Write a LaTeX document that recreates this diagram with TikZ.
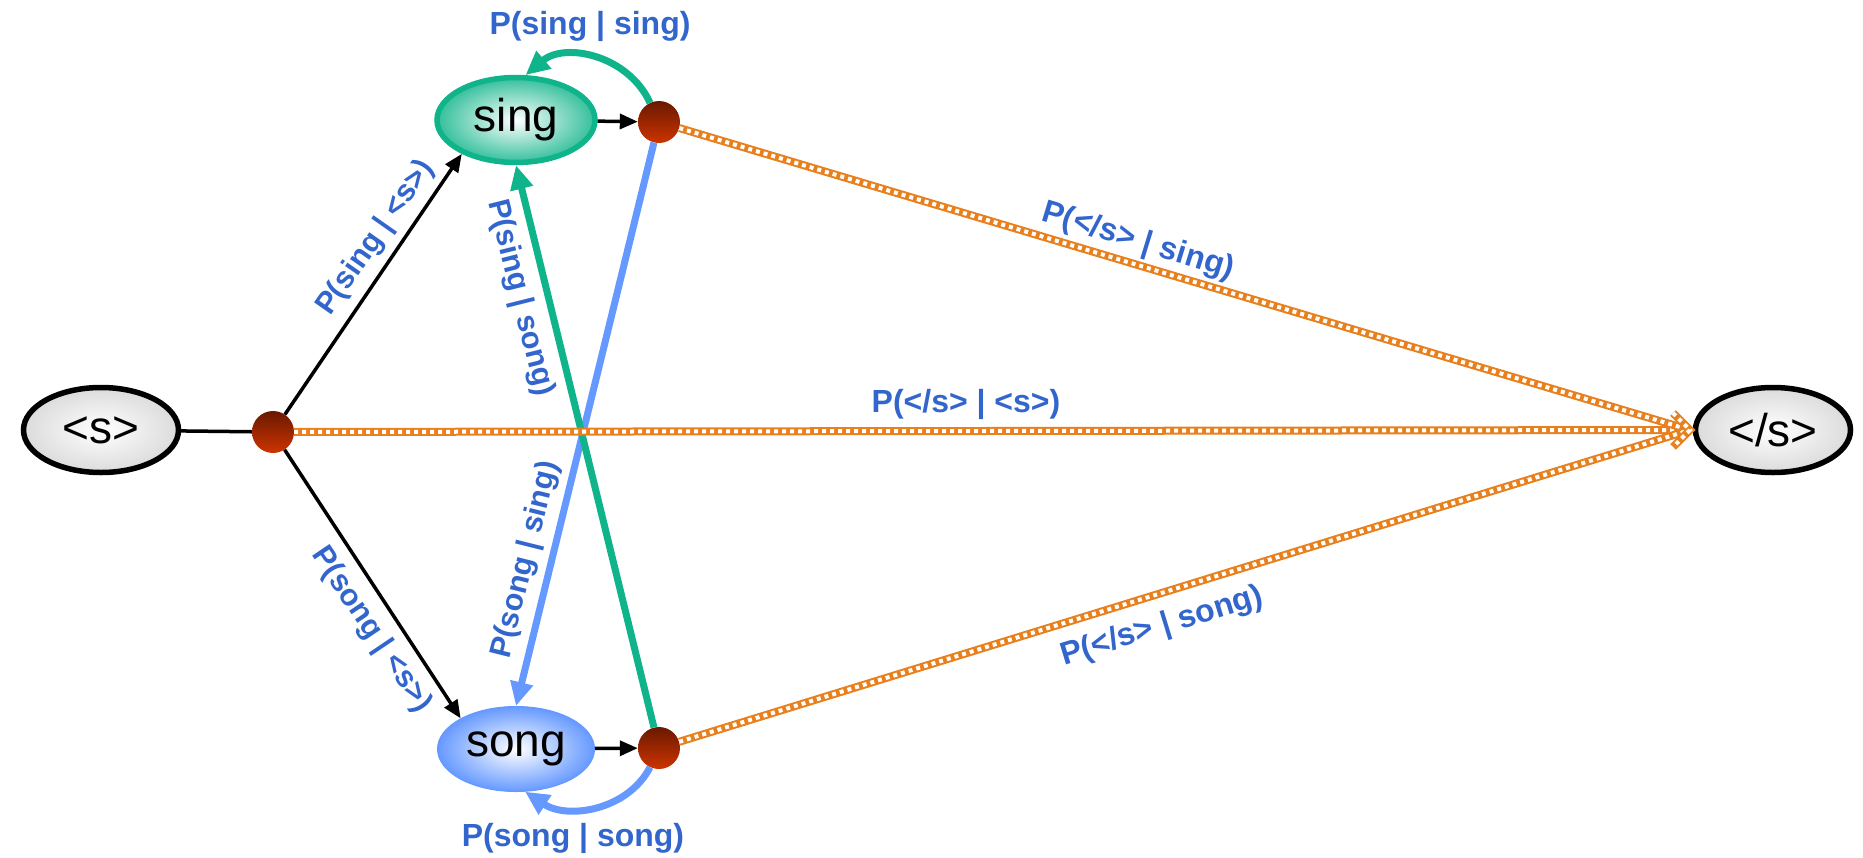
\documentclass[tikz,border=0pt]{standalone}
\usepackage{fontspec}
\setmainfont{Liberation Sans}
\usetikzlibrary{shapes.geometric,arrows.meta}
\definecolor{lblue}{RGB}{51,102,204}
\definecolor{grn}{RGB}{16,180,138}
\definecolor{lnblue}{RGB}{102,153,255}
\definecolor{org}{RGB}{232,128,30}
\definecolor{dtop}{RGB}{105,25,0}
\definecolor{dbot}{RGB}{205,52,0}
\begin{document}
\begin{tikzpicture}[x=1pt,y=-1pt,
 term/.style={ellipse, draw=black, line width=5.5pt, minimum width=155pt, minimum height=85pt, inner sep=0pt, inner color=white, outer color=gray!28, font=\fontsize{46}{50}\selectfont},
 word/.style={ellipse, minimum width=158pt, minimum height=85pt, inner sep=0pt, font=\fontsize{46}{50}\selectfont},
 dotnode/.style={circle, minimum size=42pt, inner sep=0pt, top color=dtop, bottom color=dbot},
 blk/.style={line width=3.5pt, -{Triangle[length=18pt,width=15pt]}},
 bigarrow/.style={line width=7pt, -{Triangle[length=24pt,width=22pt]}},
 chk/.style={draw=org, line width=8pt, postaction={draw=white, line width=4pt, dash pattern=on 4pt off 4pt}},
 lb/.style={text=lblue, font=\fontsize{32}{36}\selectfont\bfseries, inner sep=0pt},
 lr/.style={text=lblue, font=\fontsize{30.5}{34}\selectfont\bfseries, inner sep=0pt}
]
\useasboundingbox (0,0) rectangle (1863,857);

% nodes
\node[term] (s) at (101,430) {<s>};
\node[term] (e) at (1773,430) {</s>};
\node[word, draw=grn, line width=5.5pt, inner color=white, outer color=grn!85] (sing) at (516,120) {sing};
\node[word, minimum width=157pt, draw=lnblue, line width=1pt, inner color=white, outer color=lnblue] (song) at (516,749) {song};
\node[dotnode] (sdot) at (273,432) {};
\node[dotnode] (singdot) at (659,122) {};
\node[dotnode] (songdot) at (659,748) {};
\coordinate (tip) at (1690,430);
\coordinate (barbA) at (1673,413);
\coordinate (barbB) at (1673,447);

% black connectors
\draw[line width=3.5pt] (s) -- (sdot);
\draw[blk] (sdot) -- (sing.212);
\draw[blk] (sdot) -- (song.151);
\draw[blk] (sing) -- (singdot);
\draw[blk] (song) -- (songdot);

% cross transitions
\draw[bigarrow, lnblue] (singdot) -- (song.north);
\draw[bigarrow, grn] (songdot) -- (sing.south);

% self loops
\draw[bigarrow, grn] (singdot.115) .. controls (628,55) and (565,42) .. (sing.78);
\draw[bigarrow, lnblue] (songdot.245) .. controls (628,810) and (568,820) .. (song.282);

% end transitions
\draw[chk] (sdot) -- (tip);
\draw[chk] (singdot) -- (tip);
\draw[chk] (songdot) -- (tip);
\draw[chk, line join=miter] (barbA) -- (tip) -- (barbB);

% labels
\node[lb] (l1) at (590,26) {P(sing | sing)};
\node[lb] (l2) at (573,838) {P(song | song)};
\node[lb] (l3) at (966,404) {P(</s> | <s>)};
\node[lb, rotate=-17] (l4) at (1138,242) {P(</s> | sing)};
\node[lb, rotate=17] (l5) at (1162,627) {P(</s> | song)};
\node[lr, rotate=55] (l6) at (376,238) {P(sing | <s>)};
\node[lr, rotate=-56] (l7) at (371,630) {P(song | <s>)};
\node[lr, rotate=-76] (l8) at (520,298) {P(sing | song)};
\node[lr, rotate=76] (l9) at (526,560) {P(song | sing)};
\end{tikzpicture}
\end{document}
